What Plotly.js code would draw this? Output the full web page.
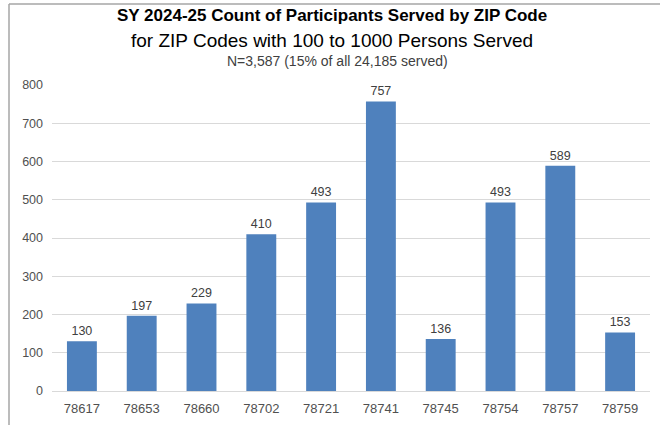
<!DOCTYPE html>
<html>
<head>
<meta charset="utf-8">
<script src="https://cdn.plot.ly/plotly-3.0.1.min.js"></script>
<style>html,body{margin:0;padding:0;background:#fff;}#chart{width:660px;height:425px;}</style>
</head>
<body>
<div id="chart"></div>
<script>
const zipCodes = ["78617","78653","78660","78702","78721","78741","78745","78754","78757","78759"];
const participants = [130,197,229,410,493,757,136,493,589,153];
const yTicks = [0,100,200,300,400,500,600,700,800];

const W = 660, H = 425;
const M = {l: 52, r: 10, t: 85, b: 34};
const pw = W - M.l - M.r, ph = H - M.t - M.b;
const px = x => (x - M.l) / pw;
const py = y => (H - M.b - y) / ph;

const layout = {
  width: W, height: H,
  margin: M,
  paper_bgcolor: '#ffffff',
  plot_bgcolor: '#ffffff',
  font: {family: 'Liberation Sans, Arial, sans-serif', color: '#595959', size: 12},
  showlegend: false,
  bargap: 0.5,
  xaxis: {
    type: 'category',
    showgrid: false,
    showline: false,
    zeroline: false,
    ticks: '',
    ticklabelstandoff: 8,
    tickfont: {size: 13, color: '#505050'}
  },
  yaxis: {
    range: [0, 800],
    tickvals: yTicks,
    ticktext: yTicks.map(String),
    showgrid: true,
    gridcolor: '#d9d9d9',
    gridwidth: 1,
    zeroline: true,
    zerolinecolor: '#d9d9d9',
    zerolinewidth: 1,
    showline: false,
    ticks: '',
    ticklabelstandoff: 8,
    tickfont: {size: 12.5, color: '#505050'}
  },
  annotations: [
    {text: '<b>SY 2024-25 Count of Participants Served by ZIP Code</b>', xref: 'paper', yref: 'paper',
     x: px(332), y: py(16), xanchor: 'center', yanchor: 'middle', showarrow: false,
     font: {size: 17, color: '#000000', family: 'Liberation Sans, Arial, sans-serif'}},
    {text: 'for ZIP Codes with 100 to 1000 Persons Served', xref: 'paper', yref: 'paper',
     x: px(332), y: py(40), xanchor: 'center', yanchor: 'middle', showarrow: false,
     font: {size: 19, color: '#000000', family: 'Liberation Sans, Arial, sans-serif'}},
    {text: 'N=3,587 (15% of all 24,185 served)', xref: 'paper', yref: 'paper',
     x: px(337), y: py(61), xanchor: 'center', yanchor: 'middle', showarrow: false,
     font: {size: 14, color: '#404040', family: 'Liberation Sans, Arial, sans-serif'}}
  ],
  shapes: [
    {type: 'line', xref: 'paper', yref: 'paper', x0: px(9), x1: px(660), y0: py(4), y1: py(4),
     line: {color: '#a6a6a6', width: 1.5}},
    {type: 'line', xref: 'paper', yref: 'paper', x0: px(9), x1: px(9), y0: py(4), y1: py(425),
     line: {color: '#a6a6a6', width: 1.5}}
  ]
};

const data = [{
  type: 'bar',
  x: zipCodes,
  y: participants,
  marker: {color: '#4f81bd', line: {color: '#4f81bd', width: 0}},
  text: participants.map(String),
  textposition: 'outside',
  textfont: {size: 12.5, color: '#404040'},
  cliponaxis: false,
  hoverinfo: 'x+y'
}];

Plotly.newPlot('chart', data, layout, {staticPlot: true, displayModeBar: false});
</script>
</body>
</html>
